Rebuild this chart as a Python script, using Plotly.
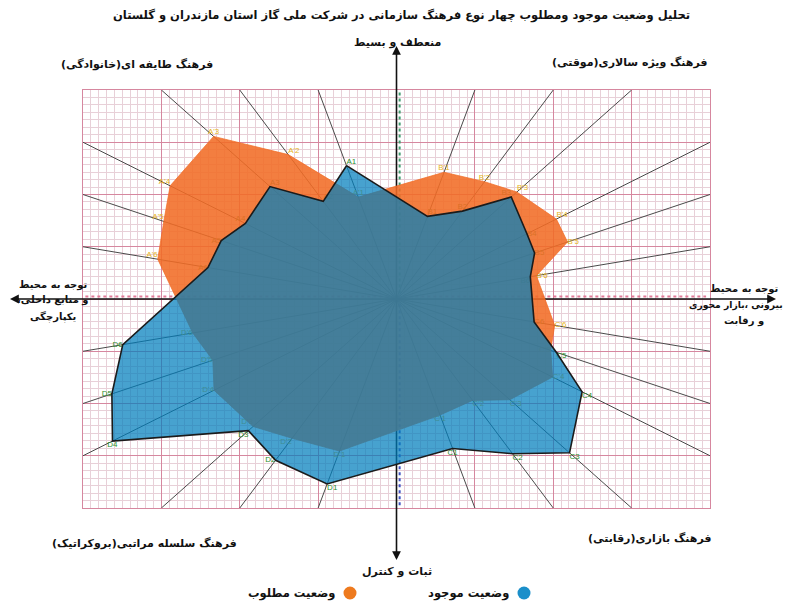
import numpy as np
import plotly.graph_objects as go

# ---------------- data ----------------
quadrant_names = ["A", "B", "C", "D"]
spoke_numbers = [1, 2, 3, 4, 5, 6]
# spoke end points on grid edge (grid units) per quadrant, spokes 1..6
spoke_ends_A = [(-1, 4), (-2, 4), (-3, 4), (-4, 3), (-4, 2), (-4, 1)]
spoke_ends_B = [(1, 4), (2, 4), (3, 4), (4, 3), (4, 2), (4, 1)]
spoke_ends_C = [(1, -4), (2, -4), (3, -4), (4, -3), (4, -2), (4, -1)]
spoke_ends_D = [(-1, -4), (-2, -4), (-3, -4), (-4, -3), (-4, -2), (-4, -1)]

# current state (وضعیت موجود) - distance from centre along each spoke (grid units)
current_A = [2.63, 2.09, 2.69, 2.41, 2.50, 2.48]
current_B = [1.63, 1.88, 2.44, 2.08, 1.97, 1.76]
current_C = [2.95, 3.31, 3.68, 2.96, 2.28, 1.81]
current_D = [3.65, 3.45, 3.15, 4.53, 4.06, 3.60]
# desired state (وضعیت مطلوب)
desired_A = [2.01, 3.09, 3.89, 3.61, 3.32, 3.14]
desired_B = [2.50, 2.51, 2.56, 2.55, 2.44, 1.84]
desired_C = [2.29, 2.17, 2.41, 2.49, 2.20, 2.08]
desired_D = [3.00, 2.98, 3.05, 2.91, 2.62, 2.68]

series_current = "وضعیت موجود"
series_desired = "وضعیت مطلوب"

title = "تحلیل وضعیت موجود ومطلوب چهار نوع فرهنگ سازمانی در شرکت ملی گاز استان مازندران و گلستان"
axis_top = "منعطف و بسیط"
axis_bottom = "ثبات و کنترل"
axis_left = ["توجه به محیط", "و منابع داخلی،", "یکپارچگی"]
axis_right = ["توجه به محیط", "بیرونی ،بازار محوری", "و رقابت"]
culture_A = "فرهنگ طایفه ای(خانوادگی)"
culture_B = "فرهنگ ویژه سالاری(موقتی)"
culture_C = "فرهنگ بازاری(رقابتی)"
culture_D = "فرهنگ سلسله مراتبی(بروکراتیک)"

# ---------------- styles ----------------
RLM = "\u200f"
FONT = "DejaVu Sans"
W, H = 786, 604
L, R, T, B = 83, 76, 90, 96
PW, PH = W - L - R, H - T - B

def X(px):
    return (px - L) / PW

def Y(py):
    return (H - B - py) / PH

ends = {"A": spoke_ends_A, "B": spoke_ends_B, "C": spoke_ends_C, "D": spoke_ends_D}
cur = {"A": current_A, "B": current_B, "C": current_C, "D": current_D}
des = {"A": desired_A, "B": desired_B, "C": desired_C, "D": desired_D}

# clockwise polygon order starting at A1
order = [("A", 0)] + [("B", i) for i in range(6)] + [("C", i) for i in range(5, -1, -1)] \
        + [("D", i) for i in range(6)] + [("A", i) for i in range(5, 0, -1)]

pos_cur = {"A": ["top right", "top right", "top right", "top left", "middle left", "middle left"],
           "B": ["top right", "top center", "top left", "middle right", "middle right", "bottom left"],
           "C": ["bottom center", "bottom right", "bottom right", "bottom right", "bottom right", "middle right"],
           "D": ["bottom right", "middle left", "bottom left", "bottom center", "middle left", "middle left"]}
pos_des = {"A": ["top center", "top right", "top center", "top left", "top left", "top left"],
           "B": ["top center", "top center", "top right", "top right", "middle right", "middle right"],
           "C": ["bottom center", "bottom right", "bottom right", "middle right", "middle left", "middle right"],
           "D": ["bottom center", "bottom left", "top left", "middle left", "middle left", "middle left"]}

def point(q, i, r):
    dx, dy = ends[q][i]
    n = np.hypot(dx, dy)
    return r * dx / n, r * dy / n

fig = go.Figure()

# spokes
sx, sy = [], []
for q in quadrant_names:
    for dx, dy in ends[q]:
        sx += [0, dx, None]
        sy += [0, dy, None]
fig.add_trace(go.Scatter(x=sx, y=sy, mode="lines", line=dict(color="#4a4a4a", width=1),
                         hoverinfo="skip", showlegend=False))
# main axes inside the grid
fig.add_trace(go.Scatter(x=[-4, 4, None, 0, 0], y=[0, 0, None, -4, 4], mode="lines",
                         line=dict(color="#111111", width=1.6), hoverinfo="skip", showlegend=False))

# vertex labels (under the polygons)
for vals, pos, prime, color in [(cur, pos_cur, "", "#2e8f2e"), (des, pos_des, "'", "#e6b422")]:
    lx, ly, lt, lp = [], [], [], []
    for q in quadrant_names:
        for i, n in enumerate(spoke_numbers):
            x, y = point(q, i, vals[q][i])
            lx.append(x); ly.append(y)
            lt.append(f"{q}{prime}{n}")
            lp.append(pos[q][i])
    fig.add_trace(go.Scatter(x=lx, y=ly, mode="text", text=lt, textposition=lp,
                             textfont=dict(family="Arial", size=8, color=color),
                             cliponaxis=False, hoverinfo="skip", showlegend=False))

# polygons
for vals, fill, line, name in [
    (des, "rgba(241,108,38,0.88)", dict(color="rgba(241,108,38,0.9)", width=0.8), series_desired),
    (cur, "rgba(0,126,188,0.72)", dict(color="#1b1b1b", width=1.6), series_current),
]:
    px_, py_ = [], []
    for q, i in order:
        x, y = point(q, i, vals[q][i])
        px_.append(x); py_.append(y)
    px_.append(px_[0]); py_.append(py_[0])
    fig.add_trace(go.Scatter(x=px_, y=py_, mode="lines", fill="toself", fillcolor=fill,
                             line=line, name=name, showlegend=False, hoverinfo="skip"))

major = "#d6879f"
minor = "#e8d0d8"
fig.update_xaxes(range=[-4, 4], tick0=0, dtick=1, showticklabels=False, ticks="",
                 showgrid=True, gridcolor=major, gridwidth=1, zeroline=False,
                 showline=True, linecolor=major, linewidth=1, mirror=True,
                 minor=dict(dtick=0.1, showgrid=True, gridcolor=minor, gridwidth=1))
fig.update_yaxes(range=[-4, 4], tick0=0, dtick=1, showticklabels=False, ticks="",
                 showgrid=True, gridcolor=major, gridwidth=1, zeroline=False,
                 showline=True, linecolor=major, linewidth=1, mirror=True,
                 minor=dict(dtick=1 / 7, showgrid=True, gridcolor=minor, gridwidth=1))

shapes = []
# tiny axis tick-label rows (rendered as dotted rows)
shapes.append(dict(type="line", xref="x", yref="y", x0=-3.97, x1=3.95, y0=0.05, y1=0.05,
                   line=dict(color="#e27a98", width=2, dash="dot"), layer="between"))
shapes.append(dict(type="line", xref="x", yref="y", x0=0.04, x1=0.04, y0=3.95, y1=0.1,
                   line=dict(color="#3f9a6e", width=2, dash="dot"), layer="between"))
shapes.append(dict(type="line", xref="x", yref="y", x0=0.04, x1=0.04, y0=-0.1, y1=-3.95,
                   line=dict(color="#3c4fc0", width=2, dash="dot"), layer="between"))
# axis parts outside the grid
cxp, cyp = X(396.5), Y(299)
for x0, y0, x1, y1 in [(cxp, 1.0, cxp, Y(52)), (cxp, 0.0, cxp, Y(554)),
                       (X(14), cyp, 0.0, cyp), (1.0, cyp, X(772), cyp)]:
    shapes.append(dict(type="line", xref="paper", yref="paper", x0=x0, y0=y0, x1=x1, y1=y1,
                       line=dict(color="#111111", width=1.6)))
# legend dots
for cx, col in [(524, "#1b8fca"), (350, "#ee7a1e")]:
    shapes.append(dict(type="circle", xref="paper", yref="paper",
                       x0=X(cx - 6.5), x1=X(cx + 6.5), y0=Y(593 + 6.5), y1=Y(593 - 6.5),
                       fillcolor=col, line=dict(width=0)))

ann = []
def txt(s, px, py, size, bold=True):
    t = RLM + s + RLM
    if bold:
        t = "<b>" + t + "</b>"
    ann.append(dict(text=t, x=X(px), y=Y(py), xref="paper", yref="paper", showarrow=False,
                    xanchor="center", yanchor="middle", font=dict(family=FONT, size=size, color="#111111")))

txt(title, 401, 15, 11.5)
txt(axis_top, 397, 42, 11)
txt(axis_bottom, 397, 571, 11)
txt(culture_A, 137, 64, 11)
txt(culture_B, 630, 62, 11)
txt(culture_D, 144, 543, 11)
txt(culture_C, 650, 538, 11)
for s, py in zip(axis_left, [285, 300, 316]):
    txt(s, 53, py, 10)
txt(axis_right[0], 744, 289, 10)
txt(axis_right[1], 736, 305, 9.2)
txt(axis_right[2], 744, 321, 10)
txt(series_current, 468, 593, 11.5)
txt(series_desired, 291, 593, 11.5)

# arrowheads
for tx, ty, ax, ay in [(396.5, 46, 0, 10), (396.5, 560, 0, -10), (10, 299, 10, 0), (776, 299, -10, 0)]:
    ann.append(dict(x=X(tx), y=Y(ty), xref="paper", yref="paper", text="", showarrow=True,
                    ax=ax, ay=ay, arrowhead=2, arrowsize=1.1, arrowwidth=1.6, arrowcolor="#111111"))

fig.update_layout(width=W, height=H, autosize=False,
                  margin=dict(l=L, r=R, t=T, b=B, pad=0),
                  paper_bgcolor="white", plot_bgcolor="white",
                  shapes=shapes, annotations=ann, showlegend=False)

fig.write_html("out.html")
